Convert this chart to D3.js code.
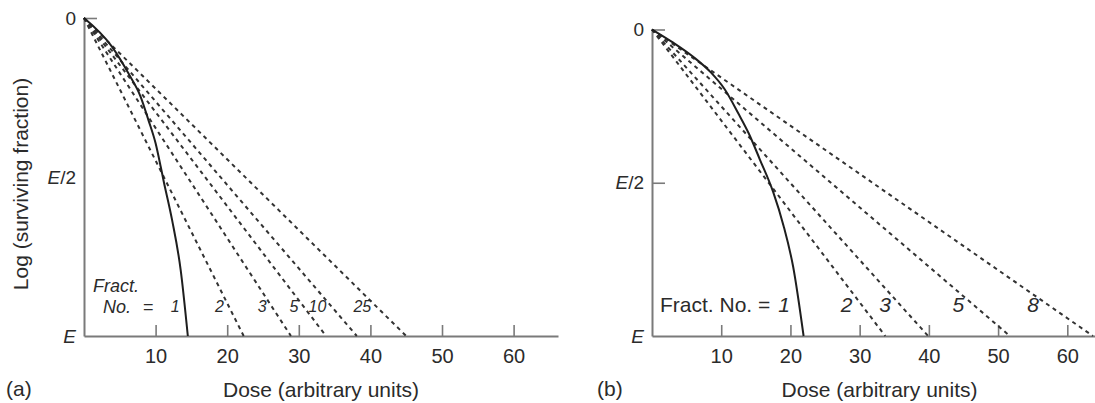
<!DOCTYPE html>
<html>
<head>
<meta charset="utf-8">
<script src="https://cdn.jsdelivr.net/npm/d3@7"></script>
<style>
  html, body { margin: 0; padding: 0; background: #fff; }
  svg { display: block; font-family: "Liberation Sans", Arial, sans-serif; }
</style>
</head>
<body>
<svg id="chart" width="1095" height="403"></svg>
<script>
// Dose axis ticks shared by both panels
const doseTicks = [10, 20, 30, 40, 50, 60];
// Effect levels on the log(surviving fraction) axis, as a fraction of E
const effectLevels = [0, 0.5, 1];
const effectLabels = ["0", "E/2", "E"];

// Panel (a): single-dose survival curve (dose, effect as fraction of E)
const singleDoseA = [0, 3.9, 6.2, 7.9, 9.0, 10.0, 10.7, 11.1, 12.3, 13.5, 14.5];
const effectA     = [0, 0.09, 0.174, 0.247, 0.321, 0.394, 0.466, 0.51, 0.635, 0.792, 1];
// Panel (a): fraction numbers and total dose giving effect E
const fractionsA  = [2, 3, 5, 10, 25];
const isoDoseA    = [22.3, 28.9, 33.8, 38.1, 45.0];

// Panel (b): single-dose survival curve
const singleDoseB = [0, 3, 6, 8.5, 10.5, 12.5, 14, 15.6, 17.5, 19.0, 20.4, 21.9];
const effectB     = [0, 0.042, 0.09, 0.14, 0.195, 0.275, 0.34, 0.425, 0.53, 0.64, 0.775, 1];
// Panel (b): fraction numbers and total dose giving effect E
const fractionsB  = [2, 3, 5, 8];
const isoDoseB    = [33.7, 39.9, 51.7, 63.7];

const svg = d3.select("#chart");
const axisColor = "#7a7a7a";
const inkColor = "#2b2b2b";

function drawPanel(p) {
  const x = d3.scaleLinear().domain([0, p.doseMax]).range([p.left, p.right]);
  const y = d3.scaleLinear().domain([0, 1]).range([p.top, p.bottom]);
  const g = svg.append("g");

  // Dose axis with ticks pointing up into the plot
  const xAxis = g.append("g")
    .attr("transform", `translate(0,${p.bottom})`)
    .call(d3.axisBottom(x).tickValues(doseTicks).tickSizeInner(-11).tickSizeOuter(0).tickPadding(13));
  xAxis.select(".domain").attr("stroke", axisColor).attr("stroke-width", 2);
  xAxis.selectAll(".tick line").attr("stroke", axisColor).attr("stroke-width", 1.6);
  xAxis.selectAll(".tick text")
    .attr("fill", inkColor).attr("font-size", 20)
    .attr("font-family", "Liberation Sans, Arial, sans-serif");

  // Effect axis
  const yAxis = g.append("g")
    .attr("transform", `translate(${p.left},0)`)
    .call(d3.axisLeft(y).tickValues(effectLevels).tickSizeInner(-13).tickSizeOuter(0).tickPadding(8)
      .tickFormat((d, i) => effectLabels[i]));
  yAxis.select(".domain").attr("stroke", axisColor).attr("stroke-width", 2);
  yAxis.selectAll(".tick line")
    .attr("stroke", axisColor).attr("stroke-width", 1.6)
    .attr("display", d => p.yTicks.includes(d) ? null : "none");
  yAxis.selectAll(".tick text").each(function(d, i) {
    const t = d3.select(this).text(null)
      .attr("fill", inkColor).attr("font-size", 19)
      .attr("font-family", "Liberation Sans, Arial, sans-serif");
    const label = effectLabels[i];
    if (label.startsWith("E")) {
      t.append("tspan").attr("font-style", "italic").text("E");
      if (label.length > 1) t.append("tspan").text(label.slice(1));
    } else {
      t.text(label);
    }
  });

  // Multi-fraction iso-effect lines (dashed), from the origin to effect E
  g.selectAll("line.frac")
    .data(p.isoDose)
    .join("line")
    .attr("class", "frac")
    .attr("x1", x(0)).attr("y1", y(0))
    .attr("x2", d => x(d)).attr("y2", y(1))
    .attr("stroke", "#333").attr("stroke-width", 2)
    .attr("stroke-dasharray", "4,4");

  // Single-dose survival curve
  const pts = p.singleDose.map((d, i) => [d, p.effect[i]]);
  g.append("path")
    .datum(pts)
    .attr("d", d3.line().x(d => x(d[0])).y(d => y(d[1])).curve(d3.curveMonotoneX))
    .attr("fill", "none").attr("stroke", "#1e1e1e").attr("stroke-width", 2);

  // Fraction number labels, placed just left of each line at the label height
  const fy = y.invert(p.labelBaseline - p.numSize * 0.35);
  const curveX = d3.scaleLinear().domain(p.effect).range(p.singleDose);
  g.append("text")
    .attr("x", x(curveX(fy)) - p.labelGap)
    .attr("y", p.labelBaseline)
    .attr("text-anchor", "end")
    .attr("font-size", p.numSize).attr("font-style", "italic").attr("fill", inkColor)
    .text("1");
  g.selectAll("text.fnum")
    .data(p.fractions)
    .join("text")
    .attr("class", "fnum")
    .attr("x", (d, i) => x(p.isoDose[i] * fy) - p.labelGap)
    .attr("y", p.labelBaseline)
    .attr("text-anchor", "end")
    .attr("font-size", p.numSize).attr("font-style", "italic").attr("fill", inkColor)
    .text(d => d);

  // Dose axis title and panel letter
  g.append("text")
    .attr("x", (p.left + p.right) / 2 + p.titleShift).attr("y", 397)
    .attr("text-anchor", "middle").attr("font-size", 21).attr("fill", inkColor)
    .text("Dose (arbitrary units)");
  g.append("text")
    .attr("x", p.letterX).attr("y", 396)
    .attr("font-size", 21).attr("fill", inkColor)
    .text(p.letter);

  return g;
}

// Panel (a)
const ga = drawPanel({
  left: 84, right: 558, top: 18, bottom: 336, doseMax: 66.2,
  singleDose: singleDoseA, effect: effectA, fractions: fractionsA, isoDose: isoDoseA,
  yTicks: [0], labelBaseline: 312, numSize: 16, labelGap: 5,
  titleShift: 0, letter: "(a)", letterX: 6
});
ga.append("text")
  .attr("x", 93).attr("y", 292)
  .attr("font-size", 18).attr("font-style", "italic").attr("fill", inkColor)
  .text("Fract.");
ga.append("text")
  .attr("x", 103).attr("y", 312.5)
  .attr("font-size", 18).attr("font-style", "italic").attr("fill", inkColor)
  .text("No.");
ga.append("text")
  .attr("x", 143).attr("y", 312.5)
  .attr("font-size", 18).attr("fill", inkColor)
  .text("=");
ga.append("text")
  .attr("transform", "translate(28,184) rotate(-90)")
  .attr("text-anchor", "middle").attr("font-size", 21).attr("fill", inkColor)
  .text("Log (surviving fraction)");

// Panel (b)
const gb = drawPanel({
  left: 652, right: 1095, top: 29.5, bottom: 336, doseMax: 64,
  singleDose: singleDoseB, effect: effectB, fractions: fractionsB, isoDose: isoDoseB,
  yTicks: [0, 0.5], labelBaseline: 312, numSize: 21, labelGap: 9,
  titleShift: 6, letter: "(b)", letterX: 597
});
gb.append("text")
  .attr("x", 660).attr("y", 312)
  .attr("font-size", 21).attr("fill", inkColor)
  .text("Fract. No. =");
</script>
</body>
</html>
